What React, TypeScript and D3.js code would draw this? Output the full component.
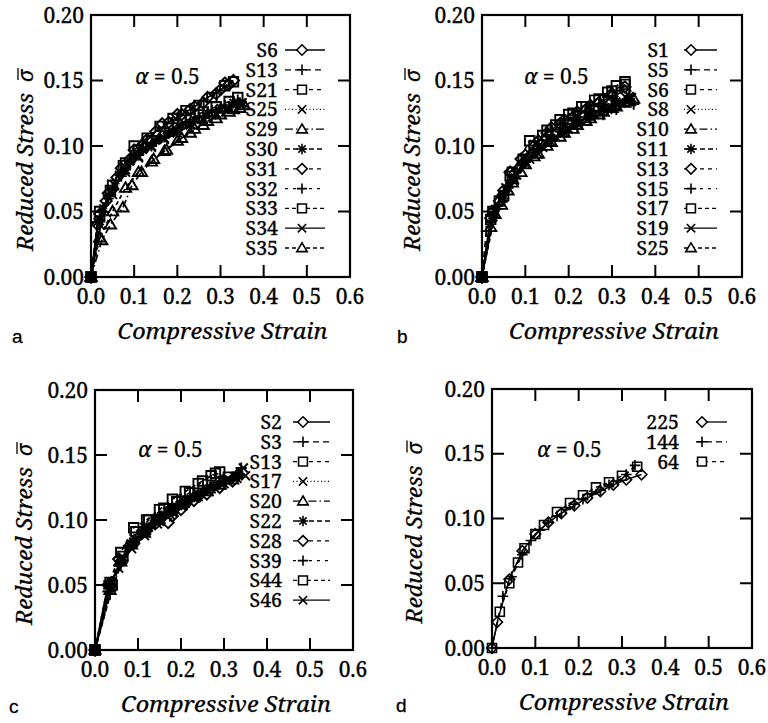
import React from "react";
import * as d3 from "d3";

type Pt = [number, number];

// ---------- tick labels ----------
const xTicks = [0, 0.1, 0.2, 0.3, 0.4, 0.5, 0.6];
const yTicks = [0, 0.05, 0.1, 0.15, 0.2];

// ---------- styles cycle (marker, dash) ----------
const markerCycle = ["diamond", "plus", "square", "x", "triangle", "star", "diamond", "plus", "square", "x", "triangle"];
const dashCycle = ["", "6,4", "4,4", "1,2.5", "8,3,1.5,3", "5,3", "4,4", "3,5", "4,3", "", "4,3"];

// ---------- panel a ----------
const namesA = ["S6", "S13", "S21", "S25", "S29", "S30", "S31", "S32", "S33", "S34", "S35"];
const a_S6: Pt[] = [[0,0],[0.015,0.04],[0.035,0.058],[0.06,0.076],[0.09,0.09],[0.12,0.101],[0.15,0.111],[0.18,0.118],[0.21,0.124],[0.24,0.13],[0.27,0.137],[0.30,0.143],[0.32,0.147]];
const a_S13: Pt[] = [[0,0],[0.02,0.044],[0.04,0.06],[0.07,0.077],[0.10,0.09],[0.13,0.099],[0.16,0.106],[0.19,0.112],[0.22,0.118],[0.25,0.122],[0.28,0.127],[0.31,0.131],[0.34,0.135]];
const a_S21: Pt[] = [[0,0],[0.02,0.05],[0.045,0.066],[0.075,0.085],[0.10,0.10],[0.13,0.106],[0.16,0.115],[0.19,0.121],[0.22,0.127],[0.25,0.131],[0.28,0.137],[0.31,0.146],[0.33,0.149]];
const a_S25: Pt[] = [[0,0],[0.02,0.04],[0.05,0.063],[0.08,0.08],[0.11,0.091],[0.14,0.099],[0.17,0.106],[0.20,0.112],[0.23,0.117],[0.26,0.121],[0.29,0.125],[0.32,0.128],[0.35,0.131]];
const a_S29: Pt[] = [[0,0],[0.025,0.028],[0.045,0.04],[0.074,0.053],[0.095,0.07],[0.117,0.08],[0.145,0.09],[0.175,0.097],[0.21,0.106],[0.24,0.113],[0.27,0.119],[0.30,0.124],[0.33,0.128],[0.355,0.131]];
const a_S30: Pt[] = [[0,0],[0.015,0.042],[0.04,0.062],[0.065,0.078],[0.09,0.088],[0.12,0.097],[0.15,0.104],[0.18,0.11],[0.21,0.116],[0.24,0.12],[0.27,0.125],[0.30,0.129],[0.33,0.133]];
const a_S31: Pt[] = [[0,0],[0.02,0.048],[0.04,0.064],[0.07,0.083],[0.10,0.097],[0.13,0.105],[0.165,0.117],[0.20,0.124],[0.23,0.128],[0.26,0.133],[0.29,0.14],[0.31,0.148],[0.33,0.15]];
const a_S32: Pt[] = [[0,0],[0.025,0.05],[0.05,0.068],[0.08,0.082],[0.11,0.093],[0.14,0.1],[0.17,0.107],[0.20,0.113],[0.23,0.118],[0.26,0.123],[0.29,0.127],[0.32,0.13],[0.345,0.133]];
const a_S33: Pt[] = [[0,0],[0.02,0.046],[0.05,0.07],[0.08,0.087],[0.11,0.097],[0.14,0.104],[0.17,0.11],[0.20,0.116],[0.23,0.121],[0.26,0.126],[0.29,0.13],[0.32,0.134],[0.34,0.137]];
const a_S34: Pt[] = [[0,0],[0.03,0.052],[0.055,0.07],[0.08,0.082],[0.11,0.092],[0.14,0.1],[0.17,0.105],[0.20,0.11],[0.23,0.116],[0.26,0.12],[0.29,0.124],[0.32,0.129],[0.35,0.133]];
const a_S35: Pt[] = [[0,0],[0.02,0.03],[0.05,0.05],[0.08,0.068],[0.11,0.08],[0.14,0.088],[0.17,0.096],[0.20,0.104],[0.23,0.11],[0.26,0.116],[0.29,0.121],[0.32,0.126],[0.345,0.129]];
const dataA = [a_S6, a_S13, a_S21, a_S25, a_S29, a_S30, a_S31, a_S32, a_S33, a_S34, a_S35];

// ---------- panel b ----------
const namesB = ["S1", "S5", "S6", "S8", "S10", "S11", "S13", "S15", "S17", "S19", "S25"];
const b_S1: Pt[] = [[0,0],[0.02,0.045],[0.04,0.058],[0.065,0.08],[0.09,0.09],[0.12,0.1],[0.15,0.11],[0.18,0.117],[0.21,0.122],[0.24,0.128],[0.27,0.133],[0.30,0.138],[0.33,0.142]];
const b_S5: Pt[] = [[0,0],[0.01,0.035],[0.035,0.052],[0.06,0.068],[0.09,0.085],[0.12,0.095],[0.15,0.104],[0.18,0.111],[0.21,0.117],[0.24,0.122],[0.27,0.127],[0.30,0.131],[0.34,0.136]];
const b_S6: Pt[] = [[0,0],[0.025,0.05],[0.05,0.062],[0.07,0.08],[0.11,0.104],[0.14,0.108],[0.17,0.116],[0.20,0.124],[0.23,0.13],[0.26,0.135],[0.29,0.141],[0.31,0.146],[0.33,0.149]];
const b_S8: Pt[] = [[0,0],[0.03,0.05],[0.055,0.068],[0.08,0.078],[0.11,0.09],[0.14,0.099],[0.17,0.107],[0.20,0.113],[0.23,0.119],[0.26,0.124],[0.29,0.128],[0.32,0.133],[0.345,0.137]];
const b_S10: Pt[] = [[0,0],[0.02,0.038],[0.045,0.055],[0.07,0.072],[0.10,0.086],[0.13,0.094],[0.16,0.103],[0.19,0.11],[0.22,0.116],[0.25,0.121],[0.28,0.126],[0.31,0.13],[0.34,0.134]];
const b_S11: Pt[] = [[0,0],[0.03,0.052],[0.05,0.06],[0.075,0.075],[0.10,0.088],[0.13,0.098],[0.16,0.106],[0.19,0.114],[0.22,0.12],[0.25,0.126],[0.28,0.131],[0.31,0.134],[0.34,0.138]];
const b_S13: Pt[] = [[0,0],[0.025,0.05],[0.05,0.066],[0.065,0.08],[0.10,0.093],[0.13,0.104],[0.16,0.114],[0.19,0.12],[0.22,0.126],[0.25,0.131],[0.28,0.136],[0.30,0.14],[0.33,0.145]];
const b_S15: Pt[] = [[0,0],[0.02,0.042],[0.04,0.055],[0.07,0.074],[0.10,0.088],[0.13,0.097],[0.16,0.104],[0.19,0.11],[0.22,0.115],[0.25,0.12],[0.28,0.124],[0.31,0.128],[0.35,0.132]];
const b_S17: Pt[] = [[0,0],[0.02,0.044],[0.04,0.058],[0.065,0.077],[0.095,0.09],[0.12,0.1],[0.15,0.112],[0.18,0.12],[0.21,0.125],[0.24,0.13],[0.27,0.136],[0.30,0.142],[0.33,0.147]];
const b_S19: Pt[] = [[0,0],[0.025,0.046],[0.045,0.06],[0.075,0.074],[0.10,0.087],[0.13,0.094],[0.16,0.103],[0.19,0.11],[0.22,0.117],[0.25,0.123],[0.28,0.128],[0.31,0.132],[0.34,0.135]];
const b_S25: Pt[] = [[0,0],[0.03,0.048],[0.06,0.066],[0.09,0.08],[0.12,0.092],[0.15,0.1],[0.18,0.107],[0.21,0.113],[0.24,0.119],[0.27,0.124],[0.30,0.129],[0.33,0.133],[0.35,0.136]];
const dataB = [b_S1, b_S5, b_S6, b_S8, b_S10, b_S11, b_S13, b_S15, b_S17, b_S19, b_S25];

// ---------- panel c ----------
const namesC = ["S2", "S3", "S13", "S17", "S20", "S22", "S28", "S39", "S44", "S46"];
const c_S2: Pt[] = [[0,0],[0.035,0.05],[0.06,0.068],[0.09,0.082],[0.12,0.092],[0.15,0.1],[0.18,0.103],[0.21,0.112],[0.24,0.118],[0.27,0.124],[0.30,0.13],[0.33,0.134]];
const c_S3: Pt[] = [[0,0],[0.03,0.045],[0.055,0.065],[0.08,0.08],[0.11,0.09],[0.14,0.098],[0.17,0.106],[0.20,0.112],[0.23,0.118],[0.26,0.124],[0.29,0.129],[0.32,0.133],[0.34,0.14]];
const c_S13: Pt[] = [[0,0],[0.035,0.052],[0.06,0.075],[0.09,0.094],[0.12,0.1],[0.15,0.108],[0.18,0.116],[0.21,0.122],[0.24,0.128],[0.27,0.134],[0.29,0.137]];
const c_S17: Pt[] = [[0,0],[0.04,0.052],[0.065,0.07],[0.09,0.083],[0.12,0.092],[0.15,0.099],[0.18,0.106],[0.21,0.113],[0.24,0.118],[0.27,0.124],[0.30,0.128],[0.33,0.132],[0.35,0.134]];
const c_S20: Pt[] = [[0,0],[0.035,0.046],[0.06,0.068],[0.085,0.081],[0.115,0.09],[0.14,0.1],[0.17,0.107],[0.20,0.113],[0.23,0.118],[0.26,0.122],[0.29,0.127],[0.32,0.131]];
const c_S22: Pt[] = [[0,0],[0.04,0.048],[0.065,0.069],[0.095,0.085],[0.125,0.094],[0.155,0.103],[0.185,0.109],[0.215,0.115],[0.245,0.12],[0.275,0.126],[0.305,0.13],[0.335,0.135]];
const c_S28: Pt[] = [[0,0],[0.03,0.05],[0.055,0.07],[0.08,0.08],[0.11,0.09],[0.14,0.097],[0.17,0.098],[0.20,0.108],[0.23,0.115],[0.26,0.12],[0.29,0.125],[0.32,0.13]];
const c_S39: Pt[] = [[0,0],[0.035,0.043],[0.06,0.066],[0.09,0.083],[0.12,0.094],[0.15,0.103],[0.18,0.11],[0.21,0.116],[0.24,0.122],[0.27,0.127],[0.30,0.132],[0.33,0.136]];
const c_S44: Pt[] = [[0,0],[0.04,0.05],[0.065,0.072],[0.095,0.091],[0.125,0.1],[0.16,0.109],[0.19,0.114],[0.22,0.121],[0.25,0.13],[0.28,0.136],[0.31,0.133]];
const c_S46: Pt[] = [[0,0],[0.03,0.05],[0.055,0.063],[0.085,0.078],[0.115,0.088],[0.145,0.097],[0.175,0.104],[0.205,0.111],[0.235,0.117],[0.265,0.122],[0.295,0.127],[0.325,0.133],[0.345,0.14]];
const dataC = [c_S2, c_S3, c_S13, c_S17, c_S20, c_S22, c_S28, c_S39, c_S44, c_S46];

// ---------- panel d ----------
const namesD = ["225", "144", "64"];
const d_225: Pt[] = [[0,0],[0.012,0.02],[0.04,0.053],[0.07,0.075],[0.10,0.088],[0.13,0.097],[0.16,0.104],[0.19,0.11],[0.22,0.116],[0.25,0.121],[0.28,0.126],[0.31,0.13],[0.345,0.134]];
const d_144: Pt[] = [[0,0],[0.025,0.04],[0.045,0.055],[0.07,0.072],[0.09,0.083],[0.11,0.091],[0.13,0.097],[0.15,0.102],[0.17,0.107],[0.19,0.111],[0.21,0.115],[0.23,0.119],[0.25,0.122],[0.27,0.126],[0.29,0.129],[0.31,0.134],[0.33,0.141]];
const d_64: Pt[] = [[0,0],[0.018,0.028],[0.04,0.05],[0.06,0.066],[0.075,0.077],[0.10,0.088],[0.12,0.095],[0.15,0.105],[0.18,0.112],[0.21,0.118],[0.24,0.124],[0.27,0.128],[0.30,0.133],[0.335,0.14]];
const dataD = [d_225, d_144, d_64];

const SERIF = "'Noto Serif', 'Liberation Serif', serif";
const TH = 0.35; // light outline to mimic the heavy scanned text

function markerPath(kind: string, r: number): string {
  switch (kind) {
    case "diamond":
      return `M0,${-r}L${r},0L0,${r}L${-r},0Z`;
    case "plus":
      return `M${-r},0H${r}M0,${-r}V${r}`;
    case "square":
      return `M${-r * 0.85},${-r * 0.85}H${r * 0.85}V${r * 0.85}H${-r * 0.85}Z`;
    case "x":
      return `M${-r * 0.8},${-r * 0.8}L${r * 0.8},${r * 0.8}M${-r * 0.8},${r * 0.8}L${r * 0.8},${-r * 0.8}`;
    case "triangle":
      return `M0,${-r}L${r},${r * 0.7}L${-r},${r * 0.7}Z`;
    case "star":
      return `M${-r},0H${r}M0,${-r}V${r}M${-r * 0.7},${-r * 0.7}L${r * 0.7},${r * 0.7}M${-r * 0.7},${r * 0.7}L${r * 0.7},${-r * 0.7}`;
    default:
      return "";
  }
}

type PanelProps = {
  x0: number; x1: number; yT: number; yB: number;
  names: string[]; data: Pt[][];
  legX: number; legY: number; legSym: number; legL0: number; legL1: number;
  alphaX: number; alphaY: number; origin: boolean; dense: boolean;
  ytitleX: number; letter: string; letterX: number; letterY: number;
};

function Panel(p: PanelProps) {
  const x = d3.scaleLinear().domain([0, 0.6]).range([p.x0, p.x1]);
  const y = d3.scaleLinear().domain([0, 0.2]).range([p.yB, p.yT]);
  const line = d3.line<Pt>().x((d) => x(d[0])).y((d) => y(d[1]));
  const tl = 12;
  const rowH = 19.8;
  const r = p.dense ? 5.6 : 5.3;
  const msw = p.dense ? 1.9 : 1.6;
  const txt = { stroke: "#000", strokeWidth: TH, style: { fontFamily: SERIF } } as const;
  const ty = (p.yT + p.yB) / 2 + 14;
  return (
    <g>
      {/* series */}
      {p.data.map((s, i) => (
        <g key={i}>
          <path d={line(s) || ""} fill="none" stroke="#000" strokeWidth={p.dense ? 1.7 : 1.4} strokeDasharray={dashCycle[i]} />
          {s.map((d, j) => (
            <path key={j} d={markerPath(markerCycle[i], r)} transform={`translate(${x(d[0])},${y(d[1])})`} fill="none" stroke="#000" strokeWidth={msw} />
          ))}
        </g>
      ))}
      {p.origin && (
        <rect x={x(0) - 5} y={y(0) - 5} width={10} height={10} fill="#000" />
      )}
      {/* frame */}
      <rect x={p.x0} y={p.yT} width={p.x1 - p.x0} height={p.yB - p.yT} fill="none" stroke="#000" strokeWidth={2.2} />
      {/* ticks */}
      {xTicks.slice(1, -1).map((t) => (
        <g key={"xt" + t}>
          <line x1={x(t)} x2={x(t)} y1={p.yB} y2={p.yB - tl} stroke="#000" strokeWidth={2} />
          <line x1={x(t)} x2={x(t)} y1={p.yT} y2={p.yT + tl} stroke="#000" strokeWidth={2} />
        </g>
      ))}
      {yTicks.slice(1, -1).map((t) => (
        <g key={"yt" + t}>
          <line x1={p.x0} x2={p.x0 + tl} y1={y(t)} y2={y(t)} stroke="#000" strokeWidth={2} />
          <line x1={p.x1} x2={p.x1 - tl} y1={y(t)} y2={y(t)} stroke="#000" strokeWidth={2} />
        </g>
      ))}
      {/* tick labels */}
      {xTicks.map((t) => (
        <text key={"xl" + t} x={x(t)} y={p.yB + 27} textAnchor="middle" fontSize={21} {...txt}>
          {d3.format(".1f")(t)}
        </text>
      ))}
      {yTicks.map((t) => (
        <text key={"yl" + t} x={p.x0 - 7} y={y(t) + 7.5} textAnchor="end" fontSize={21} {...txt}>
          {d3.format(".2f")(t)}
        </text>
      ))}
      {/* axis titles */}
      <text x={(p.x0 + p.x1) / 2 + 2} y={p.yB + 62} textAnchor="middle" fontStyle="italic" fontSize={21} {...txt} strokeWidth={0.25} textLength={210} lengthAdjust="spacingAndGlyphs">
        Compressive Strain
      </text>
      <g transform={`translate(${p.ytitleX},${ty}) rotate(-90)`}>
        <text x={-91} y={0} fontStyle="italic" fontSize={21} {...txt} strokeWidth={0.25} textLength={158} lengthAdjust="spacingAndGlyphs">
          Reduced Stress
        </text>
        <text x={78} y={0} fontStyle="italic" fontSize={21} {...txt} strokeWidth={0.25}>
          {"\u03C3"}
        </text>
        <line x1={80} x2={92} y1={-15} y2={-15} stroke="#000" strokeWidth={1.3} />
      </g>
      {/* alpha annotation */}
      <text x={p.alphaX} y={p.alphaY} fontSize={21} {...txt} strokeWidth={0.25}>
        <tspan fontStyle="italic">{"\u03B1"}</tspan>
        <tspan>{" = 0.5"}</tspan>
      </text>
      {/* legend */}
      {p.names.map((n, i) => {
        const ly = p.legY + i * rowH;
        return (
          <g key={"lg" + n}>
            <text x={p.legX} y={ly + 7} textAnchor="end" fontSize={19.5} {...txt}>
              {n}
            </text>
            <line x1={p.legL0} x2={p.legL1} y1={ly} y2={ly} stroke="#000" strokeWidth={1.3} strokeDasharray={dashCycle[i]} />
            <path d={markerPath(markerCycle[i], 5.2)} transform={`translate(${p.legSym},${ly})`} fill="#fff" stroke="#000" strokeWidth={1.6} />
          </g>
        );
      })}
      {/* panel letter */}
      <text x={p.letterX} y={p.letterY} fontSize={19} stroke="#000" strokeWidth={0.3} style={{ fontFamily: "'Liberation Sans', Arial, sans-serif" }}>
        {p.letter}
      </text>
    </g>
  );
}

export default function App() {
  return (
    <svg width={768} height={723} style={{ position: "absolute", left: 0, top: 0, background: "#fff" }}>
      <rect width={768} height={723} fill="#fff" />
      <Panel x0={91} x1={350} yT={15} yB={277} names={namesA} data={dataA} dense={true}
        legX={278} legY={50} legSym={302} legL0={285} legL1={325} origin={true}
        alphaX={135} alphaY={84} ytitleX={33} letter="a" letterX={12} letterY={343} />
      <Panel x0={482} x1={742} yT={15} yB={277} names={namesB} data={dataB} dense={true}
        legX={669} legY={50} legSym={691} legL0={684} legL1={717} origin={true}
        alphaX={524} alphaY={84} ytitleX={420} letter="b" letterX={397} letterY={343} />
      <Panel x0={95} x1={353} yT={390} yB={650} names={namesC} data={dataC} dense={true}
        legX={282} legY={422} legSym={303} legL0={293} legL1={330} origin={true}
        alphaX={138} alphaY={457} ytitleX={32} letter="c" letterX={9} letterY={713} />
      <Panel x0={492} x1={752} yT={389} yB={648} names={namesD} data={dataD} dense={false}
        legX={679} legY={422} legSym={702} legL0={696} legL1={727} origin={false}
        alphaX={537} alphaY={457} ytitleX={422} letter="d" letterX={396} letterY={712} />
    </svg>
  );
}
